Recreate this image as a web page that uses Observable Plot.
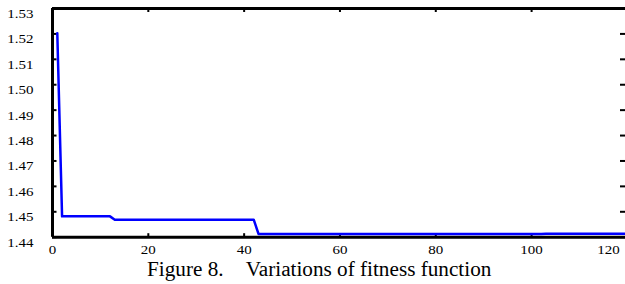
<!DOCTYPE html>
<html>
<head>
<meta charset="utf-8">
<script src="https://cdn.jsdelivr.net/npm/d3@7"></script>
<script src="https://cdn.jsdelivr.net/npm/@observablehq/plot@0.6"></script>
<style>
  html, body { margin: 0; padding: 0; background: #fff; }
  #wrap { position: relative; width: 625px; height: 284px; overflow: hidden; }
  #caption {
    position: absolute; left: 147px; top: 259px;
    font-family: "Liberation Serif", "DejaVu Serif", serif;
    font-size: 20px; line-height: 20px; color: #000; white-space: pre;
    transform: scaleX(1.06); transform-origin: left center;
  }
  #caption .gap { display: inline-block; width: 21px; }
</style>
</head>
<body>
<div id="wrap">
  <div id="chart"></div>
  <div id="caption">Figure 8.<span class="gap"></span>Variations of fitness function</div>
</div>
<script>
// Data (step points of the fitness curve)
const generation = [1, 2, 12, 13, 42, 43, 102, 103, 120];
const fitness = [1.5203, 1.4482, 1.4482, 1.4469, 1.4469, 1.4413, 1.4413, 1.4414, 1.4414];

// Tick labels
const xTicks = [0, 20, 40, 60, 80, 100];
const xTickLast = [120];
const yTicks = [1.44, 1.45, 1.46, 1.47, 1.48, 1.49, 1.50, 1.51, 1.52, 1.53];

const data = generation.map((g, i) => ({g, f: fitness[i]}));

const W = 625, H = 256;
const mL = 52, mR = 0, mT = 8, mB = 19.3;
const plotW = W - mL - mR, plotH = H - mT - mB;

const chart = Plot.plot({
  width: W,
  height: H,
  marginLeft: mL,
  marginRight: mR,
  marginTop: mT,
  marginBottom: mB,
  style: {fontFamily: "Liberation Serif, DejaVu Serif, serif", fontSize: "12.5px", background: "#fff", color: "#000"},
  x: {domain: [0, 119.6], label: null},
  y: {domain: [1.44, 1.53], label: null},
  marks: [
    // inward ticks: left, right, top, bottom
    Plot.tickY(yTicks, {y: d => d, insetRight: plotW - 4.5, stroke: "#000", strokeWidth: 2}),
    Plot.tickY(yTicks, {y: d => d, insetLeft: plotW - 5, stroke: "#000", strokeWidth: 2}),
    Plot.tickX(xTicks.concat(xTickLast), {x: d => d, insetBottom: plotH - 4, stroke: "#000", strokeWidth: 2}),
    Plot.tickX(xTicks.concat(xTickLast), {x: d => d, insetTop: plotH - 3.5, stroke: "#000", strokeWidth: 2}),
    // frame lines (left, top, bottom)
    Plot.ruleX([0], {stroke: "#000", strokeWidth: 3}),
    Plot.ruleY([1.44, 1.53], {stroke: "#000", strokeWidth: 3}),
    // fitness curve
    Plot.line(data, {x: "g", y: "f", stroke: "#0000ff", strokeWidth: 2.5, clip: true}),
    // axes labels
    Plot.axisY(yTicks, {anchor: "left", tickSize: 0, tickPadding: 19, dy: 5.5, label: null, tickFormat: d3.format(".2f"), fontSize: 12.5}),
    Plot.axisX(xTicks, {anchor: "bottom", tickSize: 0, tickPadding: 7.5, label: null, tickFormat: d => String(d), fontSize: 12.5}),
    Plot.axisX(xTickLast, {anchor: "bottom", tickSize: 0, tickPadding: 7.5, dx: -19, label: null, tickFormat: d => String(d), fontSize: 12.5})
  ]
});

chart.querySelectorAll("text").forEach(t => t.setAttribute("font-family", "Liberation Serif, DejaVu Serif, serif"));

// stretch tick labels horizontally like the reference
chart.querySelectorAll('g[aria-label="y-axis tick label"] text, g[aria-label="x-axis tick label"] text').forEach(t => {
  const tr = t.getAttribute("transform") || "";
  t.setAttribute("transform", tr + " scale(1.2,1)");
});

document.getElementById("chart").appendChild(chart);
</script>
</body>
</html>
